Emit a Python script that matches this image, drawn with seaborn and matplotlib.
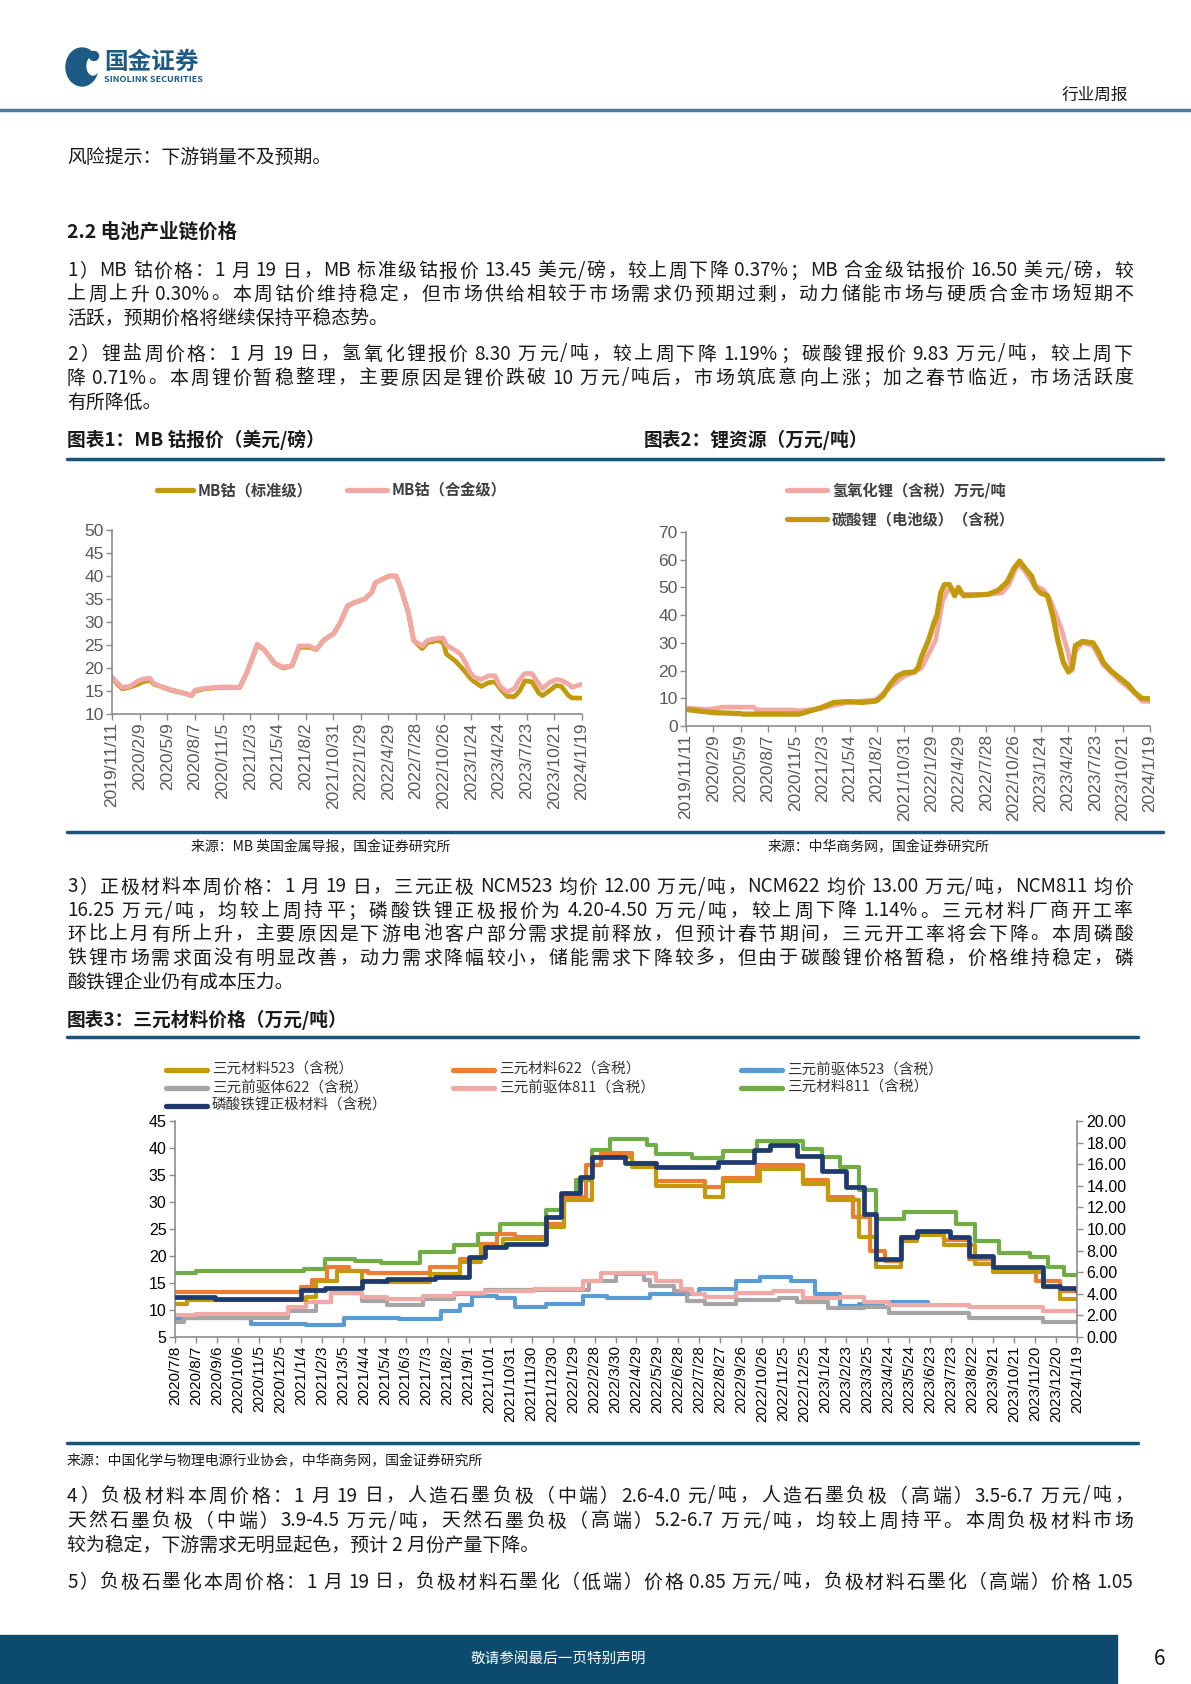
import re
import matplotlib
matplotlib.use("Agg")
import matplotlib.pyplot as plt
from matplotlib.patches import Rectangle, Ellipse, Circle
from matplotlib.ticker import FormatStrFormatter
import numpy as np
import pandas as pd
import seaborn as sns

sns.set_theme(style="white")
plt.rcParams['font.family'] = ['Noto Sans CJK SC', 'DejaVu Sans']
plt.rcParams['axes.unicode_minus'] = False

W, H = 1191, 1684

# ---- chart 1: MB cobalt (USD/lb)
cobalt_dates = ["2019-11-11", "2019-11-28", "2019-12-15", "2020-01-07", "2020-02-05", "2020-02-20",
                "2020-03-14", "2020-03-25", "2020-04-17", "2020-05-20", "2020-07-04", "2020-07-27",
                "2020-08-07", "2020-09-10", "2020-11-05", "2020-12-31", "2021-01-23", "2021-02-09",
                "2021-02-26", "2021-03-20", "2021-04-23", "2021-05-21", "2021-06-19", "2021-07-12",
                "2021-08-15", "2021-09-06", "2021-09-29", "2021-11-02", "2021-11-24", "2021-12-17",
                "2022-01-08", "2022-02-11", "2022-03-06", "2022-03-17", "2022-04-09", "2022-05-01",
                "2022-05-24", "2022-06-10", "2022-07-03", "2022-07-20", "2022-08-17", "2022-09-03",
                "2022-10-07", "2022-10-24", "2022-11-04", "2022-12-03", "2022-12-20", "2023-01-06",
                "2023-01-20", "2023-02-03", "2023-02-25", "2023-03-20", "2023-04-11", "2023-04-28",
                "2023-05-21", "2023-06-13", "2023-06-30", "2023-07-17", "2023-08-09", "2023-09-01",
                "2023-09-12", "2023-10-04", "2023-10-27", "2023-11-13", "2023-12-06", "2023-12-17",
                "2024-01-19"]
cobalt_std = [18.0, 16.5, 15.5, 15.8, 16.5, 17.0, 17.3, 16.5, 16.0, 15.2, 14.5, 14.0,
              15.0, 15.5, 15.8, 15.8, 19.0, 22.0, 25.0, 24.0, 21.0, 20.0, 20.5, 24.5,
              24.5, 24.0, 26.0, 27.5, 30.0, 33.5, 34.2, 35.0, 36.5, 38.5, 39.3, 40.0,
              40.0, 37.0, 32.0, 26.0, 24.2, 25.5, 26.0, 25.5, 23.0, 21.5, 20.3, 19.0,
              17.8, 17.0, 16.0, 16.8, 17.0, 15.5, 13.8, 13.8, 15.0, 17.2, 17.0, 14.5,
              14.0, 15.0, 16.2, 16.0, 14.0, 13.5, 13.45]
cobalt_alloy = [18.0, 16.8, 15.8, 16.0, 17.2, 17.6, 17.8, 16.7, 16.0, 15.3, 14.5, 14.0,
                15.2, 15.6, 15.9, 15.8, 19.0, 22.0, 25.2, 24.0, 21.0, 20.2, 20.5, 24.8,
                24.8, 24.0, 26.0, 27.5, 30.0, 33.5, 34.2, 35.0, 36.5, 38.5, 39.3, 40.0,
                40.0, 37.0, 32.0, 26.0, 24.8, 26.0, 26.5, 26.5, 25.0, 23.8, 23.0, 21.0,
                19.0, 18.0, 17.5, 18.3, 18.3, 16.0, 14.8, 15.5, 17.5, 18.8, 18.8, 16.5,
                15.5, 16.8, 17.5, 17.3, 16.5, 15.8, 16.5]
ticks_90d = ["2019/11/11", "2020/2/9", "2020/5/9", "2020/8/7", "2020/11/5", "2021/2/3",
             "2021/5/4", "2021/8/2", "2021/10/31", "2022/1/29", "2022/4/29", "2022/7/28",
             "2022/10/26", "2023/1/24", "2023/4/24", "2023/7/23", "2023/10/21", "2024/1/19"]

# ---- chart 2: lithium (10k CNY/t)
carbonate_dates = ["2019-11-11", "2019-12-31", "2020-02-15", "2020-05-06", "2020-05-17", "2020-11-18",
                   "2020-12-11", "2021-01-26", "2021-02-18", "2021-03-13", "2021-04-28", "2021-06-13",
                   "2021-07-30", "2021-08-22", "2021-09-14", "2021-10-07", "2021-10-30", "2021-12-03",
                   "2021-12-15", "2021-12-27", "2022-01-19", "2022-02-05", "2022-02-16", "2022-02-28",
                   "2022-03-12", "2022-03-29", "2022-04-15", "2022-04-27", "2022-05-14", "2022-08-03",
                   "2022-09-06", "2022-10-05", "2022-10-28", "2022-11-15", "2022-12-02", "2022-12-25",
                   "2023-01-06", "2023-01-23", "2023-02-15", "2023-03-04", "2023-03-21", "2023-04-08",
                   "2023-04-25", "2023-05-07", "2023-05-18", "2023-06-10", "2023-07-15", "2023-08-01",
                   "2023-08-18", "2023-09-11", "2023-10-15", "2023-11-07", "2023-11-30", "2023-12-23",
                   "2024-01-19"]
carbonate = [6.0, 5.3, 4.8, 4.5, 4.3, 4.3, 5.0, 6.5, 7.5, 8.5, 8.8, 8.5,
             9.0, 11.0, 15.0, 18.0, 19.2, 19.5, 21.0, 25.0, 31.0, 37.0, 40.0, 48.0,
             51.0, 51.0, 47.0, 50.0, 47.0, 47.5, 49.0, 52.0, 57.0, 59.5, 57.0, 54.0,
             50.0, 48.0, 47.0, 40.0, 31.0, 23.0, 19.5, 21.0, 29.0, 30.5, 30.0, 27.0,
             23.0, 20.0, 17.0, 15.0, 12.0, 10.0, 9.8]
hydroxide_dates = ["2019-11-11", "2020-01-23", "2020-02-26", "2020-03-09", "2020-06-21", "2020-07-02",
                   "2020-10-26", "2020-11-18", "2021-01-26", "2021-03-13", "2021-04-28", "2021-07-30",
                   "2021-09-14", "2021-10-30", "2021-12-03", "2021-12-27", "2022-01-19", "2022-02-11",
                   "2022-03-06", "2022-03-23", "2022-04-15", "2022-05-14", "2022-08-03", "2022-09-18",
                   "2022-10-11", "2022-11-09", "2022-12-02", "2022-12-31", "2023-02-03", "2023-02-26",
                   "2023-04-02", "2023-04-25", "2023-05-07", "2023-05-18", "2023-06-10", "2023-07-15",
                   "2023-08-18", "2023-10-15", "2023-11-30", "2023-12-23", "2024-01-19"]
hydroxide = [6.5, 6.0, 6.5, 6.8, 6.8, 5.8, 5.8, 5.5, 6.2, 7.5, 8.5, 9.5,
             14.0, 18.0, 19.5, 21.0, 26.0, 31.0, 45.0, 49.0, 49.0, 47.5, 47.5, 48.0,
             51.0, 58.5, 56.0, 51.0, 49.0, 45.0, 35.0, 26.0, 20.0, 27.0, 30.0, 29.0,
             22.0, 16.0, 12.0, 9.0, 8.8]

# ---- chart 3: cathode materials (10k CNY/t), LFP on right axis
ncm523_dates = ["2020-07-08", "2020-07-25", "2021-01-12", "2021-01-25", "2021-02-25", "2021-04-01",
                "2021-04-28", "2021-07-07", "2021-08-20", "2021-09-19", "2021-10-20", "2021-12-20",
                "2022-01-16", "2022-02-24", "2022-04-22", "2022-05-27", "2022-08-05", "2022-08-31",
                "2022-10-23", "2022-12-23", "2023-01-28", "2023-03-13", "2023-04-07", "2023-05-12",
                "2023-06-04", "2023-07-13", "2023-08-26", "2023-09-21", "2023-12-01", "2023-12-26",
                "2024-01-19"]
ncm523 = [11.1, 11.8, 12.5, 15.4, 17.3, 15.4, 15.2, 16.6, 18.8, 21.6, 23.2, 25.4,
          30.3, 38.4, 36.5, 32.9, 31.0, 33.8, 36.2, 33.4, 30.3, 23.5, 17.9, 22.8,
          23.8, 22.0, 18.5, 17.0, 14.2, 12.0, 12.0]
ncm622_dates = ["2020-07-08", "2021-01-04", "2021-01-20", "2021-02-10", "2021-03-14", "2021-04-10",
                "2021-07-07", "2021-08-20", "2021-09-19", "2021-10-12", "2021-11-06", "2021-12-20",
                "2022-01-16", "2022-02-16", "2022-03-09", "2022-04-22", "2022-05-27", "2022-08-05",
                "2022-08-31", "2022-10-19", "2022-12-23", "2023-01-28", "2023-03-04", "2023-03-29",
                "2023-04-20", "2023-05-12", "2023-06-04", "2023-07-13", "2023-08-17", "2023-09-21",
                "2023-11-22", "2023-12-26", "2024-01-19"]
ncm622 = [13.4, 14.2, 15.5, 17.9, 17.3, 16.8, 17.9, 19.4, 22.2, 24.1, 23.5, 26.0,
          31.0, 36.8, 39.0, 37.2, 33.8, 32.8, 34.4, 36.8, 34.0, 31.0, 27.2, 21.0,
          19.1, 23.5, 24.1, 22.9, 19.4, 17.6, 15.4, 13.6, 13.6]
ncm811_dates = ["2020-07-08", "2020-08-07", "2021-01-08", "2021-02-07", "2021-03-23", "2021-04-28",
                "2021-06-23", "2021-08-11", "2021-09-15", "2021-10-16", "2021-12-20", "2022-01-16",
                "2022-02-02", "2022-02-24", "2022-03-22", "2022-05-14", "2022-05-27", "2022-07-18",
                "2022-08-31", "2022-10-19", "2022-12-23", "2023-01-19", "2023-02-14", "2023-03-13",
                "2023-04-07", "2023-05-17", "2023-07-30", "2023-08-26", "2023-09-30", "2023-11-13",
                "2023-12-09", "2023-12-31", "2024-01-19"]
ncm811 = [16.8, 17.3, 17.6, 19.4, 19.1, 18.7, 20.7, 22.1, 24.1, 26.0, 28.5, 31.0,
          34.0, 39.6, 41.7, 40.6, 38.8, 38.1, 39.5, 41.3, 39.8, 38.4, 36.5, 32.2,
          26.9, 28.1, 26.0, 22.8, 20.6, 19.8, 17.9, 16.5, 16.5]
pre523_dates = ["2020-07-08", "2020-07-21", "2020-10-25", "2021-01-12", "2021-03-06", "2021-05-24",
                "2021-07-24", "2021-08-20", "2021-09-06", "2021-10-12", "2021-11-06", "2021-12-20",
                "2022-02-11", "2022-03-18", "2022-05-18", "2022-07-27", "2022-09-18", "2022-10-23",
                "2022-12-06", "2023-01-10", "2023-02-14", "2023-03-13", "2023-04-16", "2023-06-20"]
pre523 = [8.3, 8.6, 7.5, 7.2, 8.6, 8.3, 9.8, 11.0, 12.6, 12.3, 10.5, 11.1,
          12.6, 12.3, 12.9, 13.9, 15.4, 16.2, 15.4, 12.9, 10.8, 11.1, 11.5, 11.5]
pre622_dates = ["2020-07-08", "2020-07-21", "2020-12-17", "2021-01-25", "2021-02-16", "2021-04-01",
                "2021-05-07", "2021-06-28", "2021-08-11", "2021-09-24", "2022-02-11", "2022-02-20",
                "2022-03-30", "2022-05-10", "2022-05-18", "2022-06-22", "2022-07-10", "2022-08-05",
                "2022-09-18", "2022-11-19", "2022-12-14", "2023-01-28", "2023-03-21", "2023-04-25",
                "2023-08-17", "2023-12-01", "2024-01-19"]
pre622 = [7.7, 8.6, 9.8, 11.5, 13.1, 11.7, 11.0, 12.0, 12.9, 13.7, 13.7, 15.4,
          16.7, 15.5, 14.5, 13.5, 11.7, 11.1, 11.8, 12.2, 11.4, 10.3, 10.5, 9.4,
          8.6, 7.7, 7.7]
pre811_dates = ["2020-07-08", "2020-08-07", "2020-12-17", "2021-01-12", "2021-02-16", "2021-04-01",
                "2021-05-07", "2021-06-28", "2021-08-11", "2021-09-24", "2021-12-03", "2022-02-11",
                "2022-03-09", "2022-05-27", "2022-07-01", "2022-07-18", "2022-08-05", "2022-09-18",
                "2022-11-10", "2022-12-23", "2023-02-14", "2023-03-21", "2023-04-25", "2023-08-17",
                "2023-12-01", "2024-01-19"]
pre811 = [9.0, 9.2, 10.5, 11.5, 13.1, 12.4, 12.0, 12.6, 13.2, 13.6, 13.9, 15.4,
          16.8, 15.4, 13.9, 12.9, 12.4, 13.1, 13.6, 12.3, 12.4, 11.4, 11.0, 10.5,
          9.8, 9.8]
lfp_dates = ["2020-07-08", "2020-09-03", "2021-01-04", "2021-02-07", "2021-04-01", "2021-05-07",
             "2021-07-15", "2021-09-02", "2021-09-24", "2021-10-25", "2021-12-20", "2022-01-11",
             "2022-02-07", "2022-02-24", "2022-04-13", "2022-05-27", "2022-08-23", "2022-10-14",
             "2022-11-06", "2022-12-14", "2023-01-19", "2023-02-23", "2023-03-21", "2023-04-07",
             "2023-05-12", "2023-06-04", "2023-07-21", "2023-08-17", "2023-09-21", "2023-12-01",
             "2023-12-26", "2024-01-19"]
lfp = [3.66, 3.5, 4.34, 4.5, 5.2, 5.36, 5.6, 7.4, 8.3, 8.6, 11.1, 13.3,
       14.8, 16.7, 16.1, 15.7, 16.2, 17.3, 17.8, 16.8, 15.4, 13.9, 11.4, 7.2,
       9.24, 9.86, 9.24, 7.5, 6.45, 4.74, 4.5, 4.3]
ticks_30d = ["2020/7/8", "2020/8/7", "2020/9/6", "2020/10/6", "2020/11/5", "2020/12/5",
             "2021/1/4", "2021/2/3", "2021/3/5", "2021/4/4", "2021/5/4", "2021/6/3",
             "2021/7/3", "2021/8/2", "2021/9/1", "2021/10/1", "2021/10/31", "2021/11/30",
             "2021/12/30", "2022/1/29", "2022/2/28", "2022/3/30", "2022/4/29", "2022/5/29",
             "2022/6/28", "2022/7/28", "2022/8/27", "2022/9/26", "2022/10/26", "2022/11/25",
             "2022/12/25", "2023/1/24", "2023/2/23", "2023/3/25", "2023/4/24", "2023/5/24",
             "2023/6/23", "2023/7/23", "2023/8/22", "2023/9/21", "2023/10/21", "2023/11/20",
             "2023/12/20", "2024/1/19"]

GOLD = '#C39A0E'
PINK = '#F2A9A6'
ORANGE = '#ED7D31'
BLUE = '#5B9BD5'
GRAY = '#A5A5A5'
GREEN = '#70AD47'
NAVY = '#1F3A6E'
RULE = '#1C5479'

fig = plt.figure(figsize=(W / 100, H / 100), dpi=100)
fig.patch.set_facecolor('white')
renderer = fig.canvas.get_renderer()

# page layer in pixel coordinates
pg = fig.add_axes([0, 0, 1, 1])
pg.set_xlim(0, W)
pg.set_ylim(H, 0)
pg.axis('off')


def put(x, y, s, size=14, weight='normal', color='#1a1a1a', ha='left'):
    return pg.text(x, y, s, fontsize=size, fontweight=weight, color=color, ha=ha, va='center')


def width_of(t):
    return t.get_window_extent(renderer).width


def justify(y, s, x0=67, x1=1133, size=13.6):
    # split into words (ascii runs) and single CJK chars, spread them across the line
    parts = re.findall(r'[A-Za-z0-9.%\-/]+|\s+|[^\sA-Za-z0-9.%\-/]', s)
    probe = put(0, -100, "a a", size=size)
    probe2 = put(0, -100, "aa", size=size)
    space = width_of(probe) - width_of(probe2)
    probe.remove()
    probe2.remove()
    items = []
    pad = 0.0
    for p in parts:
        if p.isspace():
            pad += space
            continue
        items.append([p, pad])
        pad = 0.0
    texts = [put(0, y, p, size=size) for p, _ in items]
    widths = [width_of(t) for t in texts]
    natural = sum(widths) + sum(g for _, g in items[1:])
    extra = (x1 - x0) - natural
    step = extra / max(len(items) - 1, 1)
    x = x0
    for i, t in enumerate(texts):
        if i > 0:
            x += items[i][1] + step
        t.set_x(x)
        x += widths[i]


def key(x, y, color, label, length=40, lw=3.6, size=11, weight='normal', tcolor='#333333'):
    pg.plot([x, x + length], [y, y], color=color, lw=lw, solid_capstyle='round')
    pg.text(x + length + 5, y, label, fontsize=size, fontweight=weight, color=tcolor, va='center')


# header
pg.add_patch(Ellipse((82, 67), 32, 38, color='#1d5b84'))
pg.add_patch(Ellipse((93, 66), 12, 18, color='white'))
pg.add_patch(Circle((94, 56), 4.5, color='#1d5b84'))
put(104, 62, "国金证券", size=17, weight='bold', color='#1d5b84')
put(104, 80, "SINOLINK SECURITIES", size=6.5, weight='bold', color='#1d5b84')
put(1128, 95, "行业周报", size=12, ha='right')
pg.plot([0, W], [110, 110], color='#4d7d98', lw=2.5)

# body text (True = justified line)
put(67, 157, "风险提示：下游销量不及预期。", size=13.6)
put(67, 232, "2.2 电池产业链价格", size=14, weight='bold')
para = [
    (271, True, "1）MB 钴价格：1 月 19 日，MB 标准级钴报价 13.45 美元/磅，较上周下降 0.37%；MB 合金级钴报价 16.50 美元/磅，较"),
    (294, True, "上周上升 0.30%。本周钴价维持稳定，但市场供给相较于市场需求仍预期过剩，动力储能市场与硬质合金市场短期不"),
    (318, False, "活跃，预期价格将继续保持平稳态势。"),
    (354, True, "2）锂盐周价格：1 月 19 日，氢氧化锂报价 8.30 万元/吨，较上周下降 1.19%；碳酸锂报价 9.83 万元/吨，较上周下"),
    (378, True, "降 0.71%。本周锂价暂稳整理，主要原因是锂价跌破 10 万元/吨后，市场筑底意向上涨；加之春节临近，市场活跃度"),
    (402, False, "有所降低。"),
    (887, True, "3）正极材料本周价格：1 月 19 日，三元正极 NCM523 均价 12.00 万元/吨，NCM622 均价 13.00 万元/吨，NCM811 均价"),
    (911, True, "16.25 万元/吨，均较上周持平；磷酸铁锂正极报价为 4.20-4.50 万元/吨，较上周下降 1.14%。三元材料厂商开工率"),
    (934, True, "环比上月有所上升，主要原因是下游电池客户部分需求提前释放，但预计春节期间，三元开工率将会下降。本周磷酸"),
    (958, True, "铁锂市场需求面没有明显改善，动力需求降幅较小，储能需求下降较多，但由于碳酸锂价格暂稳，价格维持稳定，磷"),
    (982, False, "酸铁锂企业仍有成本压力。"),
    (1496, True, "4）负极材料本周价格：1 月 19 日，人造石墨负极（中端）2.6-4.0 元/吨，人造石墨负极（高端）3.5-6.7 万元/吨，"),
    (1521, True, "天然石墨负极（中端）3.9-4.5 万元/吨，天然石墨负极（高端）5.2-6.7 万元/吨，均较上周持平。本周负极材料市场"),
    (1545, False, "较为稳定，下游需求无明显起色，预计 2 月份产量下降。"),
    (1582, True, "5）负极石墨化本周价格：1 月 19 日，负极材料石墨化（低端）价格 0.85 万元/吨，负极材料石墨化（高端）价格 1.05"),
]
for y, full, s in para:
    if full:
        justify(y, s)
    else:
        put(67, y, s, size=13.6)

# chart titles, rules, sources
put(67, 440, "图表1：MB 钴报价（美元/磅）", size=13.5, weight='bold')
put(644, 440, "图表2：锂资源（万元/吨）", size=13.5, weight='bold')
pg.plot([67, 1163], [459, 459], color=RULE, lw=2.5)
pg.plot([67, 1163], [832, 832], color=RULE, lw=2.5)
put(191, 847, "来源：MB 英国金属导报，国金证券研究所", size=10)
put(768, 847, "来源：中华商务网，国金证券研究所", size=10)
put(67, 1020, "图表3：三元材料价格（万元/吨）", size=13.5, weight='bold')
pg.plot([67, 1138], [1037, 1037], color=RULE, lw=2.5)
pg.plot([67, 1138], [1443, 1443], color=RULE, lw=2.5)
put(67, 1461, "来源：中国化学与物理电源行业协会，中华商务网，国金证券研究所", size=10)

# footer
pg.add_patch(Rectangle((0, 1635), 1117, 49, color='#0d4b6e'))
put(558, 1659, "敬请参阅最后一页特别声明", size=10.5, color='white', ha='center')
put(1160, 1659, "6", size=15, ha='center')


def frame(ax, color='#8c8c8c', labcolor='#595959', size=12.5):
    for s in ('left', 'bottom'):
        ax.spines[s].set_color(color)
        ax.spines[s].set_linewidth(1.2)
    ax.tick_params(axis='both', which='both', bottom=True, left=True, direction='out',
                   length=4, width=1, color=color, labelsize=size, labelcolor=labcolor,
                   pad=2, labelfontfamily='Liberation Sans')
    ax.set_xlabel('')
    ax.set_ylabel('')
    ax.set_facecolor('none')
    ax.grid(False)


# ---- chart 1
ax1 = fig.add_axes([112 / W, 1 - 714 / H, 470 / W, 184 / H])
sns.lineplot(x=pd.to_datetime(cobalt_dates), y=cobalt_std, ax=ax1, color=GOLD, lw=3.4)
sns.lineplot(x=pd.to_datetime(cobalt_dates), y=cobalt_alloy, ax=ax1, color=PINK, lw=3.4)
sns.despine(ax=ax1)
t90 = pd.to_datetime(ticks_90d, format='%Y/%m/%d')
ax1.set_xlim(t90[0], t90[-1])
ax1.set_ylim(10, 50)
ax1.set_yticks(range(10, 51, 5))
ax1.set_xticks(t90)
ax1.set_xticklabels(ticks_90d, rotation=90)
frame(ax1)
key(157, 490, GOLD, "MB钴（标准级）", length=36, lw=3.8, size=11, weight='bold', tcolor='#404040')
key(347, 490, PINK, "MB钴（合金级）", length=40, lw=3.8, size=11, weight='bold', tcolor='#404040')

# ---- chart 2
ax2 = fig.add_axes([686 / W, 1 - 726 / H, 464 / W, 194 / H])
sns.lineplot(x=pd.to_datetime(hydroxide_dates), y=hydroxide, ax=ax2, color=PINK, lw=3.4)
sns.lineplot(x=pd.to_datetime(carbonate_dates), y=carbonate, ax=ax2, color=GOLD, lw=3.8)
sns.despine(ax=ax2)
ax2.set_xlim(t90[0], t90[-1])
ax2.set_ylim(0, 70)
ax2.set_yticks(range(0, 71, 10))
ax2.set_xticks(t90)
ax2.set_xticklabels(ticks_90d, rotation=90)
frame(ax2)
key(787, 490, PINK, "氢氧化锂（含税）万元/吨", length=40, lw=3.8, size=11, weight='bold', tcolor='#404040')
key(787, 519, GOLD, "碳酸锂（电池级）（含税）", length=40, lw=3.8, size=11, weight='bold', tcolor='#404040')

# ---- chart 3
ax3 = fig.add_axes([175 / W, 1 - 1337 / H, 902 / W, 216 / H])
left_series = [
    (pre523_dates, pre523, BLUE),
    (pre622_dates, pre622, GRAY),
    (pre811_dates, pre811, PINK),
    (ncm811_dates, ncm811, GREEN),
    (ncm622_dates, ncm622, ORANGE),
    (ncm523_dates, ncm523, GOLD),
]
for d, v, c in left_series:
    sns.lineplot(x=pd.to_datetime(d), y=v, ax=ax3, color=c, lw=3.0, drawstyle='steps-post')
ax3b = ax3.twinx()
sns.lineplot(x=pd.to_datetime(lfp_dates), y=lfp, ax=ax3b, color=NAVY, lw=3.4, drawstyle='steps-post')
t30 = pd.to_datetime(ticks_30d, format='%Y/%m/%d')
ax3.set_xlim(t30[0], t30[-1])
ax3.set_ylim(5, 45)
ax3.set_yticks(range(5, 46, 5))
ax3.set_xticks(t30)
ax3.set_xticklabels(ticks_30d, rotation=90)
ax3b.set_ylim(0, 20)
ax3b.set_yticks(np.arange(0, 20.01, 2))
ax3b.yaxis.set_major_formatter(FormatStrFormatter('%.2f'))
frame(ax3, labcolor='#000000', size=11.5)
ax3.tick_params(axis='x', labelsize=11)
for s in ('top', 'right'):
    ax3.spines[s].set_visible(False)
for s in ('top', 'left', 'bottom'):
    ax3b.spines[s].set_visible(False)
ax3b.spines['right'].set_color('#8c8c8c')
ax3b.spines['right'].set_linewidth(1.2)
ax3b.tick_params(axis='y', right=True, direction='out', length=4, width=1, color='#8c8c8c',
                 labelsize=11.5, labelcolor='#000000', pad=3, labelfontfamily='Liberation Sans')
ax3b.set_ylabel('')
ax3b.grid(False)

legend3 = [
    (166, 1070, GOLD, "三元材料523（含税）"),
    (453, 1070, ORANGE, "三元材料622（含税）"),
    (741, 1070, BLUE, "三元前驱体523（含税）"),
    (166, 1088, GRAY, "三元前驱体622（含税）"),
    (453, 1088, PINK, "三元前驱体811（含税）"),
    (741, 1088, GREEN, "三元材料811（含税）"),
    (166, 1106, NAVY, "磷酸铁锂正极材料（含税）"),
]
for x, y, c, lab in legend3:
    key(x, y, c, lab, length=41, lw=3.8, size=10.5)

fig.savefig("out.png", dpi=100, facecolor='white')
